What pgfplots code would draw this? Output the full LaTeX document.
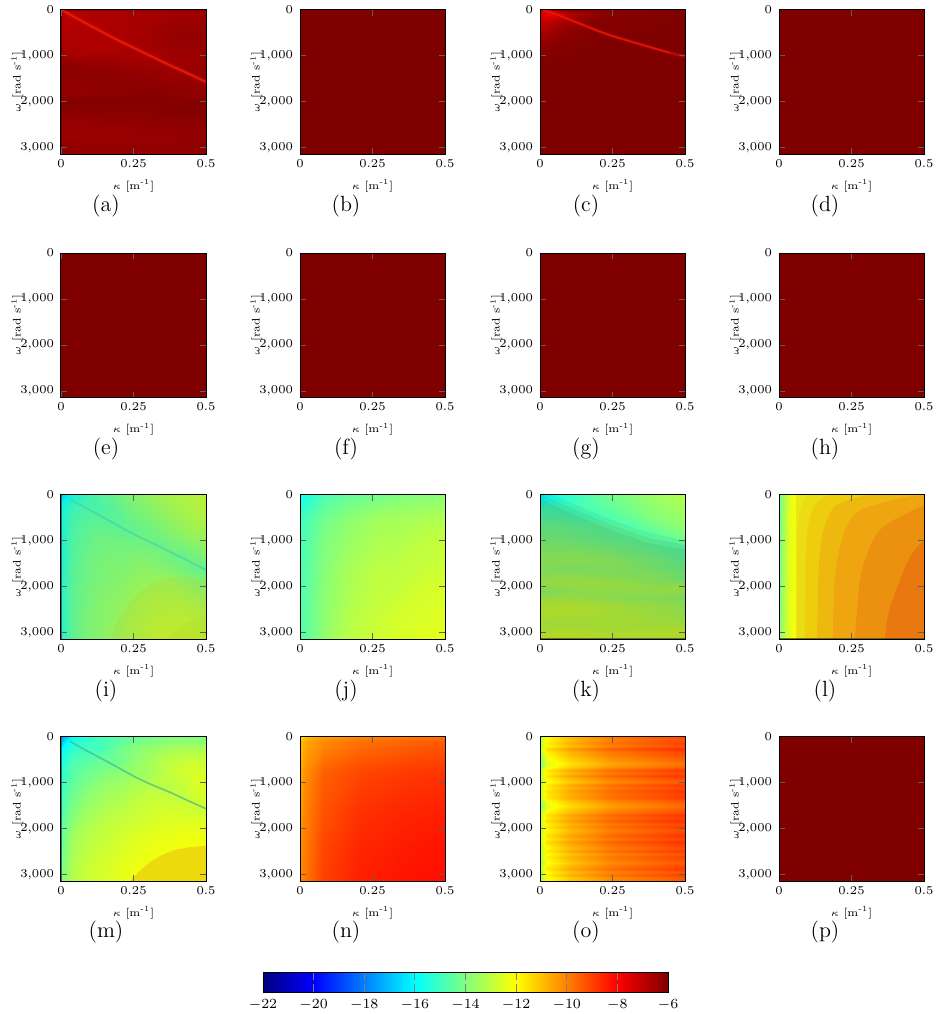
\documentclass[border=0pt]{standalone}
\usepackage{pgfplots}
\usepackage{pgfplotstable}
\pgfplotsset{compat=1.18}
\pgfplotsset{colormap={refjet}{rgb=(0,0,.5) rgb=(0,0,1) rgb=(0,.5,1) rgb=(0,1,1) rgb=(.5,1,.5) rgb=(1,1,0) rgb=(1,.5,0) rgb=(1,0,0) rgb=(.5,0,0)}}
\newcommand{\sz}{\fontsize{6}{7}\selectfont}
\newcommand{\lz}{\fontsize{5.5}{6.5}\selectfont}
\pgfplotsset{panel/.style={scale only axis,width=72.5pt,height=72.25pt,anchor=north west,
 xmin=0,xmax=0.5,ymin=0,ymax=3142,y dir=reverse,
 xtick={0,0.25,0.5},xticklabels={0,0.25,0.5},ytick={0,1000,2000,3000},yticklabels={0,{1,000},{2,000},{3,000}},
 axis on top,tick align=inside,tick pos=both,major tick length=3pt,
 tick style={color=gray!75!black,line width=.4pt},axis line style={line width=.5pt},
 tick label style={font=\sz},
 every x tick label/.append style={yshift=1pt},
 xlabel={$\kappa$\ [m\textsuperscript{-1}]},ylabel={$\omega$\ [rad s\textsuperscript{-1}]},
 every axis x label/.style={at={(axis description cs:0.5,-0.22)},anchor=center,font=\lz},
 every axis y label/.style={at={(axis description cs:-0.30,0.5)},rotate=90,anchor=center,font=\lz},
 colormap name=refjet,point meta min=-22,point meta max=-6}}
% #1 table, #2 number of kappa columns, #3 kappa list, #4 omega list: adds columns xx and yy
\newcommand{\maketab}[4]{%
 \pgfplotstablecreatecol[create col/assign/.code={\pgfmathparse{#3[int(mod(\pgfplotstablerow,#2))]}\pgfkeyslet{/pgfplots/table/create col/next content}\pgfmathresult}]{xx}{#1}%
 \pgfplotstablecreatecol[create col/assign/.code={\pgfmathparse{#4[int(floor(\pgfplotstablerow/#2))]}\pgfkeyslet{/pgfplots/table/create col/next content}\pgfmathresult}]{yy}{#1}}
\newcommand{\heat}[2]{\addplot[surf,shader=interp,mesh/cols=#1,point meta=explicit,forget plot]
 table[x=xx,y=yy,meta index=0]{#2};}
\def\xU{{0,0.0417,0.0833,0.125,0.1667,0.2083,0.25,0.2917,0.3333,0.375,0.4167,0.4583,0.5}}
\def\yU{{0,262,524,786,1047,1309,1571,1833,2095,2356,2618,2880,3142}}
\pgfplotstableread[row sep=crcr,header=false]{-6\\-6\\-6\\-6\\}\dataflat
\maketab{\dataflat}{2}{{0,0.5}}{{0,3142}}
\pgfplotstableread[row sep=crcr,header=false]{
-6.15\\-6.22\\-6.3\\-6.3\\-6.3\\-6.22\\-6.22\\
-6.75\\-6.98\\-6.75\\-6.68\\-6.6\\-6.52\\-6.52\\
-6.68\\-6.9\\-6.75\\-6.68\\-6.6\\-6.45\\-6.45\\
-6.68\\-6.82\\-6.75\\-6.68\\-6.52\\-6.38\\-6.38\\
-6.68\\-6.75\\-6.75\\-6.68\\-6.52\\-6.3\\-6.3\\
-6.6\\-6.68\\-6.75\\-6.75\\-6.52\\-6.38\\-6.38\\
-6.52\\-6.6\\-6.6\\-6.6\\-6.68\\-6.45\\-6.45\\
-6.15\\-6.2\\-6.3\\-6.4\\-6.5\\-6.5\\-6.3\\
-6.15\\-6.2\\-6.2\\-6.2\\-6.3\\-6.5\\-6.3\\
-6.2\\-6.3\\-6.2\\-6.2\\-6.2\\-6.3\\-6.4\\
-6.2\\-6.4\\-6.3\\-6.2\\-6.15\\-6.2\\-6.3\\
-6.05\\-6.05\\-6.05\\-6.05\\-6.05\\-6.1\\-6.1\\
-6.15\\-6.15\\-6.15\\-6.15\\-6.15\\-6.05\\-6.05\\
-6.3\\-6.36\\-6.3\\-6.24\\-6.24\\-6.18\\-6.18\\
-6.36\\-6.42\\-6.36\\-6.36\\-6.3\\-6.3\\-6.24\\
-6.36\\-6.42\\-6.42\\-6.42\\-6.36\\-6.36\\-6.3\\
-6.24\\-6.24\\-6.3\\-6.3\\-6.3\\-6.24\\-6.24\\
-6.3\\-6.36\\-6.36\\-6.36\\-6.36\\-6.36\\-6.36\\
}\dataa
\maketab{\dataa}{7}{{0,0.02,0.1,0.2,0.3,0.4,0.5}}{{0,50,200,400,600,800,1000,1200,1400,1600,1800,2000,2200,2400,2600,2800,3000,3142}}
\pgfplotstableread[row sep=crcr,header=false]{
-6.1\\-6.3\\-6.4\\-6.2\\-6.1\\-6\\-6\\
-7.2\\-7.8\\-7.8\\-6.9\\-6.3\\-6.1\\-6\\
-7.0\\-7.4\\-7.7\\-7.5\\-6.8\\-6.2\\-6\\
-6.8\\-7.0\\-7.0\\-6.8\\-6.5\\-6.1\\-6\\
-6.5\\-6.6\\-6.5\\-6.3\\-6.2\\-6.05\\-6\\
-6.2\\-6.2\\-6.2\\-6.1\\-6.05\\-6\\-6\\
-6.05\\-6.05\\-6\\-6\\-6\\-6\\-6\\
-6\\-6\\-6\\-6\\-6\\-6\\-6\\
}\datac
\maketab{\datac}{7}{{0,0.01,0.03,0.06,0.1,0.2,0.5}}{{0,30,100,250,500,800,1100,3142}}
\pgfplotstableread[row sep=crcr,header=false]{
-16.6\\-15.6\\-15.1\\-14.7\\-14.4\\-14.1\\-13.8\\-13.6\\-13.4\\-13.2\\-13.1\\-13.0\\-13.0\\
-15.6\\-15.0\\-14.8\\-14.8\\-14.6\\-14.3\\-14.0\\-13.8\\-13.6\\-13.4\\-13.2\\-13.1\\-13.0\\
-15.5\\-14.8\\-14.6\\-14.5\\-14.6\\-14.5\\-14.2\\-14.0\\-13.8\\-13.6\\-13.4\\-13.2\\-13.1\\
-15.5\\-14.7\\-14.5\\-14.3\\-14.3\\-14.4\\-14.4\\-14.2\\-14.0\\-13.8\\-13.6\\-13.4\\-13.3\\
-15.5\\-14.6\\-14.4\\-14.1\\-14.1\\-14.1\\-14.1\\-14.2\\-14.3\\-14.1\\-13.9\\-13.7\\-13.5\\
-15.4\\-14.6\\-14.3\\-14.1\\-14.0\\-14.0\\-13.9\\-13.9\\-14.0\\-14.2\\-14.3\\-14.1\\-13.9\\
-15.4\\-14.5\\-14.2\\-14.0\\-13.9\\-13.9\\-13.8\\-13.7\\-13.8\\-13.9\\-14.1\\-14.3\\-14.4\\
-15.3\\-14.5\\-14.2\\-14.0\\-13.9\\-13.8\\-13.6\\-13.5\\-13.5\\-13.5\\-13.7\\-13.9\\-14.0\\
-15.3\\-14.4\\-14.1\\-13.9\\-13.8\\-13.7\\-13.5\\-13.4\\-13.3\\-13.3\\-13.4\\-13.6\\-13.7\\
-15.3\\-14.4\\-14.1\\-13.9\\-13.7\\-13.6\\-13.4\\-13.2\\-13.1\\-13.1\\-13.1\\-13.2\\-13.4\\
-15.3\\-14.4\\-14.0\\-13.8\\-13.7\\-13.5\\-13.3\\-13.1\\-13.0\\-12.9\\-12.9\\-13.0\\-13.1\\
-15.3\\-14.4\\-14.0\\-13.8\\-13.6\\-13.5\\-13.2\\-13.0\\-12.9\\-12.8\\-12.8\\-12.8\\-12.9\\
-15.3\\-14.4\\-14.0\\-13.8\\-13.6\\-13.4\\-13.2\\-13.0\\-12.8\\-12.8\\-12.7\\-12.7\\-12.8\\
}\datai
\maketab{\datai}{13}{\xU}{\yU}
\pgfplotstableread[row sep=crcr,header=false]{
-15.8\\-14.8\\-14.4\\-14.2\\-14.0\\-13.9\\-13.8\\
-15.0\\-14.2\\-13.8\\-13.5\\-13.4\\-13.3\\-13.2\\
-14.9\\-14.0\\-13.6\\-13.3\\-13.2\\-13.0\\-12.9\\
-14.8\\-13.9\\-13.4\\-13.1\\-13.0\\-12.9\\-12.8\\
-14.8\\-13.8\\-13.3\\-13.0\\-12.9\\-12.7\\-12.6\\
-14.7\\-13.8\\-13.2\\-12.9\\-12.7\\-12.6\\-12.5\\
-14.7\\-13.7\\-13.1\\-12.8\\-12.6\\-12.5\\-12.4\\
}\dataj
\maketab{\dataj}{7}{{0,0.083,0.167,0.25,0.333,0.417,0.5}}{{0,524,1047,1571,2095,2618,3142}}
\pgfplotstableread[row sep=crcr,header=false]{
-16.3\\-15.6\\-15.0\\-14.6\\-14.2\\-13.9\\-13.6\\-13.4\\-13.2\\
-15.6\\-15.4\\-15.0\\-14.6\\-14.3\\-14.0\\-13.7\\-13.5\\-13.3\\
-15.0\\-15.0\\-15.0\\-14.7\\-14.4\\-14.1\\-13.8\\-13.6\\-13.4\\
-14.7\\-14.8\\-14.9\\-14.9\\-14.6\\-14.2\\-13.9\\-13.7\\-13.5\\
-14.6\\-14.6\\-14.7\\-14.8\\-14.8\\-14.5\\-14.0\\-13.8\\-13.6\\
-14.3\\-14.3\\-14.4\\-14.5\\-14.6\\-14.7\\-14.3\\-13.9\\-13.7\\
-14.2\\-14.2\\-14.3\\-14.4\\-14.5\\-14.6\\-14.6\\-14.2\\-13.8\\
-14.1\\-14.1\\-14.2\\-14.3\\-14.4\\-14.5\\-14.6\\-14.5\\-14.1\\
-13.9\\-13.9\\-14.0\\-14.1\\-14.2\\-14.3\\-14.5\\-14.6\\-14.5\\
-13.8\\-13.8\\-13.8\\-13.9\\-14.0\\-14.2\\-14.3\\-14.5\\-14.6\\
-13.6\\-13.6\\-13.6\\-13.7\\-13.8\\-14.0\\-14.1\\-14.3\\-14.6\\
-13.5\\-13.5\\-13.5\\-13.5\\-13.6\\-13.8\\-14.0\\-14.1\\-14.4\\
-13.6\\-13.7\\-13.8\\-13.7\\-13.6\\-13.7\\-13.9\\-14.1\\-14.3\\
-13.5\\-13.5\\-13.5\\-13.6\\-13.7\\-13.7\\-13.7\\-13.8\\-14.0\\
-13.4\\-13.3\\-13.3\\-13.3\\-13.4\\-13.5\\-13.6\\-13.8\\-14.1\\
-13.3\\-13.2\\-13.2\\-13.2\\-13.2\\-13.3\\-13.4\\-13.4\\-13.3\\
-13.7\\-13.6\\-13.4\\-13.4\\-13.4\\-13.3\\-13.3\\-13.3\\-13.3\\
-13.3\\-13.2\\-13.3\\-13.4\\-13.5\\-13.6\\-13.6\\-13.6\\-13.8\\
-13.0\\-12.9\\-12.9\\-13.0\\-13.1\\-13.2\\-13.3\\-13.4\\-13.5\\
-12.9\\-12.8\\-12.8\\-12.9\\-13.0\\-13.1\\-13.2\\-13.3\\-13.4\\
-12.8\\-12.8\\-12.9\\-12.9\\-13.0\\-13.0\\-13.1\\-13.2\\-13.3\\
-13.1\\-13.0\\-13.0\\-13.0\\-13.0\\-13.0\\-13.1\\-13.1\\-13.1\\
-13.0\\-13.0\\-13.0\\-13.0\\-13.0\\-13.0\\-13.0\\-13.0\\-12.9\\
-12.8\\-12.7\\-12.7\\-12.8\\-12.8\\-12.8\\-12.7\\-12.7\\-12.6\\
-12.7\\-12.8\\-12.8\\-12.9\\-13.0\\-13.1\\-13.2\\-13.2\\-13.3\\
}\datak
\maketab{\datak}{9}{{0,0.0625,0.125,0.1875,0.25,0.3125,0.375,0.4375,0.5}}{{0,131,262,393,524,655,786,917,1048,1179,1310,1441,1571,1702,1833,1964,2095,2226,2356,2487,2618,2749,2880,3011,3142}}
\pgfplotstableread[row sep=crcr,header=false]{
-14.4\\-13.9\\-13.2\\-12.5\\-12.2\\-12.1\\
-14.0\\-13.6\\-13.0\\-12.5\\-12.2\\-12.1\\
}\datal
\maketab{\datal}{6}{{0,0.008,0.02,0.035,0.05,0.065}}{{0,3142}}
\pgfplotstableread[row sep=crcr,header=false]{
-17.6\\-15.8\\-15.4\\-15.0\\-14.8\\-14.6\\-14.4\\-14.2\\-14.1\\-14.0\\-14.0\\-14.0\\-14.1\\
-16.0\\-15.2\\-15.0\\-15.0\\-14.6\\-14.2\\-13.9\\-13.7\\-13.5\\-13.4\\-13.3\\-13.3\\-13.3\\
-15.6\\-14.8\\-14.6\\-14.4\\-14.3\\-14.2\\-13.8\\-13.5\\-13.2\\-13.0\\-12.9\\-12.8\\-12.8\\
-15.3\\-14.6\\-14.3\\-14.1\\-13.9\\-13.8\\-13.6\\-13.5\\-13.2\\-12.9\\-12.7\\-12.6\\-12.6\\
-15.1\\-14.4\\-14.1\\-13.8\\-13.6\\-13.5\\-13.3\\-13.2\\-13.1\\-13.1\\-12.9\\-12.6\\-12.5\\
-14.9\\-14.2\\-13.8\\-13.6\\-13.4\\-13.3\\-13.1\\-12.9\\-12.9\\-12.9\\-13.0\\-12.8\\-12.6\\
-14.8\\-14.0\\-13.6\\-13.4\\-13.2\\-13.1\\-12.9\\-12.8\\-12.7\\-12.7\\-12.7\\-12.8\\-12.9\\
-14.6\\-13.8\\-13.4\\-13.2\\-13.0\\-12.9\\-12.8\\-12.7\\-12.6\\-12.5\\-12.5\\-12.5\\-12.5\\
-14.4\\-13.5\\-13.2\\-13.0\\-12.9\\-12.7\\-12.6\\-12.5\\-12.4\\-12.4\\-12.3\\-12.3\\-12.3\\
-14.3\\-13.4\\-13.1\\-12.9\\-12.8\\-12.6\\-12.5\\-12.4\\-12.3\\-12.3\\-12.2\\-12.2\\-12.2\\
-14.2\\-13.3\\-13.0\\-12.8\\-12.7\\-12.5\\-12.4\\-12.3\\-12.2\\-12.1\\-12.1\\-12.0\\-12.0\\
-14.1\\-13.2\\-12.9\\-12.7\\-12.6\\-12.4\\-12.3\\-12.2\\-12.1\\-12.0\\-11.9\\-11.9\\-11.9\\
-14.1\\-13.2\\-12.9\\-12.7\\-12.6\\-12.4\\-12.3\\-12.2\\-12.1\\-12.0\\-11.9\\-11.9\\-11.9\\
}\datam
\maketab{\datam}{13}{\xU}{\yU}
\pgfplotstableread[row sep=crcr,header=false]{
-11.6\\-11.0\\-10.5\\-10.1\\-9.9\\-9.7\\
-11.0\\-10.6\\-10.2\\-9.8\\-9.6\\-9.4\\
-10.6\\-10.2\\-9.5\\-9.1\\-8.9\\-8.8\\
-10.4\\-10.0\\-9.3\\-8.8\\-8.6\\-8.5\\
-10.2\\-9.9\\-9.1\\-8.6\\-8.4\\-8.3\\
-10.1\\-9.8\\-9.0\\-8.5\\-8.3\\-8.2\\
}\datan
\maketab{\datan}{6}{{0,0.02,0.08,0.2,0.35,0.5}}{{0,100,800,1600,2400,3142}}
\pgfplotstableread[row sep=crcr,header=false]{
-13.3\\-11.9\\-10.9\\-9.9\\-9.1\\
-13.4\\-12.0\\-11.0\\-10.0\\-9.2\\
-13.1\\-11.8\\-10.8\\-9.8\\-9.0\\
-13.4\\-12.0\\-11.0\\-10.0\\-9.2\\
-12.7\\-11.5\\-10.5\\-9.5\\-8.7\\
-13.3\\-11.9\\-10.9\\-9.9\\-9.1\\
-13.4\\-12.0\\-11.0\\-10.0\\-9.2\\
-13.8\\-12.2\\-11.2\\-10.2\\-9.4\\
-14.1\\-12.4\\-11.4\\-10.4\\-9.6\\
-14.3\\-12.6\\-11.6\\-10.6\\-9.8\\
-13.9\\-12.3\\-11.3\\-10.3\\-9.5\\
-13.0\\-11.7\\-10.7\\-9.7\\-8.9\\
-13.3\\-11.9\\-10.9\\-9.9\\-9.1\\
-12.8\\-11.6\\-10.6\\-9.6\\-8.8\\
-13.4\\-12.0\\-11.0\\-10.0\\-9.2\\
-13.8\\-12.2\\-11.2\\-10.2\\-9.4\\
-13.0\\-11.7\\-10.7\\-9.7\\-8.9\\
-13.3\\-11.9\\-10.9\\-9.9\\-9.1\\
-12.8\\-11.6\\-10.6\\-9.6\\-8.8\\
-13.1\\-11.8\\-10.8\\-9.8\\-9.0\\
-13.0\\-11.7\\-10.7\\-9.7\\-8.9\\
-13.4\\-12.0\\-11.0\\-10.0\\-9.2\\
-13.9\\-12.3\\-11.3\\-10.3\\-9.5\\
-14.2\\-12.5\\-11.5\\-10.5\\-9.7\\
-13.8\\-12.2\\-11.2\\-10.2\\-9.4\\
-13.4\\-12.0\\-11.0\\-10.0\\-9.2\\
-12.8\\-11.6\\-10.6\\-9.6\\-8.8\\
-13.1\\-11.8\\-10.8\\-9.8\\-9.0\\
-12.7\\-11.5\\-10.5\\-9.5\\-8.7\\
-13.3\\-11.9\\-10.9\\-9.9\\-9.1\\
-13.0\\-11.7\\-10.7\\-9.7\\-8.9\\
-13.4\\-12.0\\-11.0\\-10.0\\-9.2\\
-13.1\\-11.8\\-10.8\\-9.8\\-9.0\\
-12.8\\-11.6\\-10.6\\-9.6\\-8.8\\
-13.3\\-11.9\\-10.9\\-9.9\\-9.1\\
-12.7\\-11.5\\-10.5\\-9.5\\-8.7\\
-13.1\\-11.8\\-10.8\\-9.8\\-9.0\\
-13.4\\-12.0\\-11.0\\-10.0\\-9.2\\
-13.0\\-11.7\\-10.7\\-9.7\\-8.9\\
-13.6\\-12.1\\-11.1\\-10.1\\-9.3\\
-13.1\\-11.8\\-10.8\\-9.8\\-9.0\\
-13.4\\-12.0\\-11.0\\-10.0\\-9.2\\
-13.8\\-12.2\\-11.2\\-10.2\\-9.4\\
-13.3\\-11.9\\-10.9\\-9.9\\-9.1\\
-13.0\\-11.7\\-10.7\\-9.7\\-8.9\\
-13.6\\-12.1\\-11.1\\-10.1\\-9.3\\
-13.1\\-11.8\\-10.8\\-9.8\\-9.0\\
-13.8\\-12.2\\-11.2\\-10.2\\-9.4\\
-13.4\\-12.0\\-11.0\\-10.0\\-9.2\\
}\datao
\maketab{\datao}{5}{{0,0.02,0.1,0.25,0.5}}{{0,65,131,196,262,327,393,458,524,589,655,720,786,851,917,982,1047,1113,1178,1244,1309,1375,1440,1506,1571,1636,1702,1767,1833,1898,1964,2029,2095,2160,2225,2291,2356,2422,2487,2553,2618,2684,2749,2815,2880,2946,3011,3077,3142}}
\pgfplotstableread[row sep=crcr,header=false]{
-22\\-20\\-18\\-16\\-14\\-12\\-10\\-8\\-6\\
-22\\-20\\-18\\-16\\-14\\-12\\-10\\-8\\-6\\
}\databar
\maketab{\databar}{9}{{-22,-20,-18,-16,-14,-12,-10,-8,-6}}{{0,1}}
\newcommand{\flatpanel}[2]{\begin{axis}[panel,at={(#1,#2)}]
\heat{2}{\dataflat}
\end{axis}}
\begin{document}
\begin{tikzpicture}
\path[use as bounding box] (0,0) rectangle (472.5pt,-507pt);
% row 1
\begin{axis}[panel,at={(30.5pt,-4.75pt)}]
\heat{7}{\dataa}
\addplot[smooth,color={rgb,255:red,225;green,20;blue,10},line width=2.4pt,opacity=.3,forget plot] coordinates {(0,0)(0.0625,220)(0.125,430)(0.1875,640)(0.25,830)(0.3125,1020)(0.375,1210)(0.4375,1390)(0.5,1575)};
\addplot[smooth,color={rgb,255:red,245;green,35;blue,5},line width=.8pt,opacity=.8,forget plot] coordinates {(0,0)(0.0625,220)(0.125,430)(0.1875,640)(0.25,830)(0.3125,1020)(0.375,1210)(0.4375,1390)(0.5,1575)};
\addplot[color={rgb,255:red,90;green,0;blue,0},line width=.8pt,opacity=.8,forget plot] coordinates {(0.001,0)(0.001,3142)};
\end{axis}
\flatpanel{150pt}{-4.75pt}
\begin{axis}[panel,at={(270pt,-4.75pt)}]
\heat{7}{\datac}
\addplot[smooth,color={rgb,255:red,225;green,10;blue,5},line width=1.5pt,opacity=.55,forget plot] coordinates {(0.01,10)(0.03,50)(0.06,115)(0.1,215)(0.15,340)(0.2,465)(0.25,575)(0.3,670)(0.375,810)(0.45,945)(0.5,1020)};
\addplot[smooth,color={rgb,255:red,245;green,30;blue,5},line width=.6pt,opacity=.75,forget plot] coordinates {(0.01,10)(0.03,50)(0.06,115)(0.1,215)(0.15,340)(0.2,465)(0.25,575)(0.3,670)(0.375,810)(0.45,945)};
\end{axis}
\flatpanel{389.5pt}{-4.75pt}
% row 2
\flatpanel{30.5pt}{-126.5pt}
\flatpanel{150pt}{-126.5pt}
\flatpanel{270pt}{-126.5pt}
\flatpanel{389.5pt}{-126.5pt}
% row 3
\begin{axis}[panel,at={(30.5pt,-247.25pt)}]
\heat{13}{\datai}
\addplot[smooth,tension=.6,fill={rgb,255:red,190;green,220;blue,50},draw=none,opacity=.22,forget plot] coordinates {(0.17,3400)(0.18,3000)(0.21,2590)(0.28,2075)(0.37,1820)(0.44,1820)(0.55,2050)(0.7,3400)};
\addplot[smooth,tension=.6,fill={rgb,255:red,175;green,225;blue,50},draw=none,opacity=.22,forget plot] coordinates {(0.33,3400)(0.36,3142)(0.41,2890)(0.5,2640)(0.65,2500)(0.7,3400)};
\addplot[fill=black,draw=none,opacity=.05,forget plot] coordinates {(0,0)(0.5,0)(0.5,3142)(0,3142)};
\addplot[smooth,color={rgb,255:red,70;green,205;blue,170},line width=1pt,opacity=.55,forget plot] coordinates {(0.03,100)(0.1,340)(0.175,600)(0.25,860)(0.375,1240)(0.5,1640)};
\addplot[color={rgb,255:red,20;green,100;blue,110},line width=1pt,opacity=.8,forget plot] coordinates {(0.001,0)(0.001,3142)};
\end{axis}
\begin{axis}[panel,at={(150pt,-247.25pt)}]
\heat{7}{\dataj}
\end{axis}
\begin{axis}[panel,at={(270pt,-247.25pt)}]
\heat{9}{\datak}
\addplot[fill=black,draw=none,opacity=.05,forget plot] coordinates {(0,-100)(0.0625,60)(0.125,230)(0.25,560)(0.375,830)(0.5,1000)(0.5,3142)(0,3142)};
\addplot[fill=black,draw=none,opacity=.05,forget plot] coordinates {(0,0)(0.0625,170)(0.125,340)(0.25,670)(0.375,950)(0.5,1100)(0.5,3142)(0,3142)};
\addplot[fill=black,draw=none,opacity=.05,forget plot] coordinates {(0,100)(0.0625,280)(0.125,460)(0.25,780)(0.375,1060)(0.5,1200)(0.5,3142)(0,3142)};
\addplot[color={rgb,255:red,80;green,90;blue,20},line width=1pt,opacity=.8,forget plot] coordinates {(0,3135)(0.5,3135)};
\end{axis}
\begin{axis}[panel,at={(389.5pt,-247.25pt)}]
\heat{6}{\datal}
\addplot[fill={rgb,255:red,232;green,232;blue,20},draw=none,forget plot] coordinates {(0.06,0)(0.14,0)(0.14,3142)(0.06,3142)};
\addplot[smooth,tension=.5,fill={rgb,255:red,235;green,220;blue,20},draw=none,forget plot] coordinates {(0.062,3400)(0.063,1139)(0.071,414)(0.083,160)(0.106,0)(0.14,-120)(0.8,-120)(0.8,3400)};
\addplot[smooth,tension=.5,fill={rgb,255:red,238;green,205;blue,15},draw=none,forget plot] coordinates {(0.089,3400)(0.092,1502)(0.1,704)(0.118,305)(0.141,123)(0.175,0)(0.22,-120)(0.8,-120)(0.8,3400)};
\addplot[smooth,tension=.5,fill={rgb,255:red,238;green,185;blue,15},draw=none,forget plot] coordinates {(0.131,3400)(0.135,1865)(0.146,994)(0.169,486)(0.198,232)(0.256,87)(0.313,0)(0.36,-120)(0.8,-120)(0.8,3400)};
\addplot[smooth,tension=.5,fill={rgb,255:red,238;green,165;blue,15},draw=none,forget plot] coordinates {(0.184,3400)(0.192,1865)(0.21,1139)(0.238,631)(0.279,341)(0.348,196)(0.44,51)(0.5,15)(0.6,-50)(0.8,-120)(0.8,3400)};
\addplot[smooth,tension=.5,fill={rgb,255:red,235;green,145;blue,15},draw=none,forget plot] coordinates {(0.259,3400)(0.279,1865)(0.313,1139)(0.359,704)(0.44,414)(0.5,232)(0.6,50)(0.8,3400)};
\addplot[smooth,tension=.5,fill={rgb,255:red,232;green,120;blue,15},draw=none,forget plot] coordinates {(0.36,3400)(0.377,2590)(0.417,1865)(0.452,1357)(0.5,994)(0.6,600)(0.8,3400)};
\addplot[color={rgb,255:red,90;green,80;blue,10},line width=1pt,opacity=.8,forget plot] coordinates {(0,3135)(0.5,3135)};
\addplot[color={rgb,255:red,40;green,120;blue,90},line width=1pt,opacity=.8,forget plot] coordinates {(0.001,0)(0.001,3142)};
\end{axis}
% row 4
\begin{axis}[panel,at={(30.5pt,-368.25pt)}]
\heat{13}{\datam}
\addplot[fill={rgb,255:red,235;green,215;blue,15},draw=none,opacity=.9,forget plot] coordinates {(0.24,3142)(0.27,2930)(0.309,2720)(0.35,2570)(0.39,2470)(0.44,2410)(0.5,2375)(0.5,3142)};
\addplot[smooth,color={rgb,255:red,70;green,180;blue,140},line width=.8pt,opacity=.7,forget plot] coordinates {(0.03,100)(0.08,280)(0.125,430)(0.19,650)(0.25,860)(0.31,1040)(0.375,1210)(0.44,1400)(0.5,1570)};
\addplot[color={rgb,255:red,20;green,100;blue,110},line width=1pt,opacity=.8,forget plot] coordinates {(0.001,0)(0.001,3142)};
\end{axis}
\begin{axis}[panel,at={(150pt,-368.25pt)}]
\heat{6}{\datan}
\end{axis}
\begin{axis}[panel,at={(270pt,-368.25pt)}]
\heat{5}{\datao}
\end{axis}
\flatpanel{389.5pt}{-368.25pt}
% colour scale
\begin{axis}[scale only axis,width=202.5pt,height=10pt,anchor=north west,at={(131.5pt,-486pt)},
 xmin=-22,xmax=-6,ymin=0,ymax=1,xtick={-22,-20,...,-6},ytick=\empty,axis on top,tick align=inside,tick pos=both,
 major tick length=4pt,tick style={color=gray,line width=.4pt},axis line style={line width=.5pt},
 tick label style={font=\fontsize{7.5}{8}\selectfont},colormap name=refjet,point meta min=-22,point meta max=-6]
\heat{9}{\databar}
\end{axis}
% captions
\foreach \t/\x/\y in {(a)/53/-103,(b)/173/-103,(c)/293/-103,(d)/412.5/-103,
 (e)/53/-224.5,(f)/173/-224.5,(g)/293/-224.5,(h)/412.5/-224.5,
 (i)/53/-345.5,(j)/173/-345.5,(k)/293/-345.5,(l)/412.5/-345.5,
 (m)/53/-466,(n)/173/-466,(o)/293/-466,(p)/412.5/-466}
 \node[inner sep=0pt,font=\fontsize{11}{13}\selectfont] at (\x pt,\y pt) {\t};
\end{tikzpicture}
\end{document}
